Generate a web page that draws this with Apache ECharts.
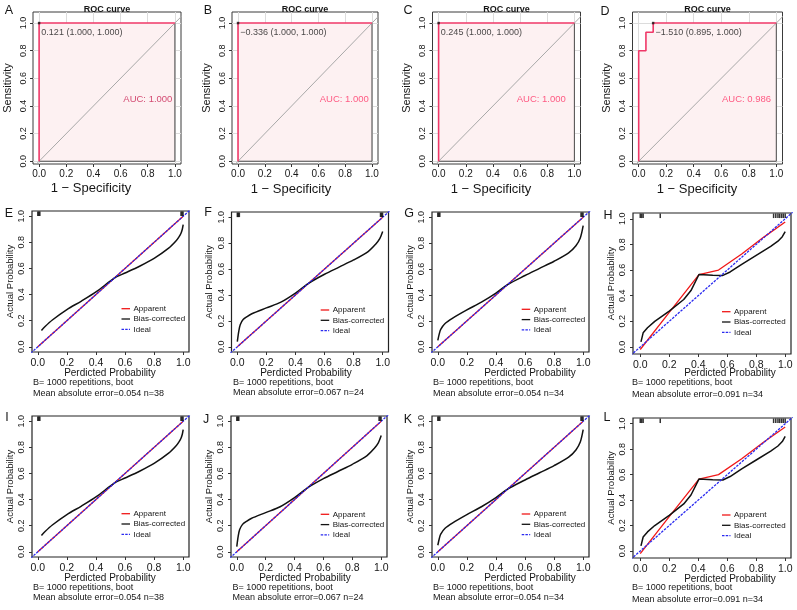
<!DOCTYPE html>
<html><head><meta charset="utf-8">
<script src="https://cdn.jsdelivr.net/npm/echarts@6/dist/echarts.min.js"></script>
<style>html,body{margin:0;padding:0;background:#fff}#c{width:797px;height:610px}</style>
</head><body><div id="c"></div>
<script>
// ---------------- DATA ----------------
const TICKS = [0, 0.2, 0.4, 0.6, 0.8, 1.0];

// ROC panels A-D
const rocLetters = ['A', 'B', 'C', 'D'];
const rocCurveA = [[0, 0], [0, 1], [1, 1]];
const rocCurveB = [[0, 0], [0, 1], [1, 1]];
const rocCurveC = [[0, 0], [0, 1], [1, 1]];
const rocCurveD = [[0, 0], [0, 0.8], [0.0526, 0.8], [0.0526, 0.9333], [0.1053, 0.9333], [0.1053, 1], [1, 1]];
const rocThreshold = [0.121, -0.336, 0.245, -1.510];
const rocBestSpec = [1.000, 1.000, 1.000, 0.895];
const rocBestSens = [1.000, 1.000, 1.000, 1.000];
const rocAUC = [1.000, 1.000, 1.000, 0.986];
const rocAucTextPos = [[0.62, 0.445], [0.61, 0.45], [0.575, 0.45], [0.605, 0.45]];
const rocPolygonEdge = [[0, 0], [1, 0], [1, 1]];
const diagonalLine = [[-0.2, -0.2], [1.2, 1.2]];

// Calibration panels E-L
const calLetters = ['E', 'F', 'G', 'H', 'I', 'J', 'K', 'L'];
const biasE = [[0.025, 0.125], [0.05, 0.155], [0.1, 0.205], [0.2, 0.285], [0.3, 0.35], [0.4, 0.42], [0.5, 0.505], [0.54, 0.535], [0.6, 0.565], [0.7, 0.617], [0.8, 0.677], [0.9, 0.755], [0.95, 0.81], [0.97, 0.84], [0.985, 0.87], [0.994, 0.9], [1.0, 0.935]];
const biasF = [[0.0, 0.04], [0.01, 0.12], [0.02, 0.17], [0.04, 0.21], [0.07, 0.235], [0.1, 0.255], [0.2, 0.3], [0.3, 0.345], [0.4, 0.415], [0.49, 0.49], [0.6, 0.56], [0.7, 0.615], [0.8, 0.67], [0.9, 0.735], [0.95, 0.79], [0.98, 0.835], [1.0, 0.89]];
const biasG = [[0.0, 0.05], [0.01, 0.1], [0.02, 0.135], [0.05, 0.18], [0.1, 0.22], [0.2, 0.285], [0.3, 0.345], [0.4, 0.415], [0.48, 0.48], [0.6, 0.55], [0.7, 0.605], [0.8, 0.66], [0.9, 0.725], [0.95, 0.78], [0.98, 0.84], [1.0, 0.935]];
const biasH = [[0.005, 0.04], [0.02, 0.11], [0.05, 0.15], [0.1, 0.2], [0.2, 0.28], [0.3, 0.37], [0.35, 0.44], [0.405, 0.565], [0.5, 0.56], [0.57, 0.558], [0.62, 0.585], [0.7, 0.645], [0.8, 0.715], [0.9, 0.785], [0.95, 0.825], [0.98, 0.86], [1.0, 0.9]];
const apparentDiag = [[0, 0], [1, 1]];
const apparentH = [[0.0, -0.02], [0.2, 0.27], [0.405, 0.565], [0.54, 0.6], [0.7, 0.725], [0.85, 0.855], [1.0, 0.975]];
const rugE = [0.0, 0.007, 0.014, 0.985, 0.992, 0.999];
const rugF = [0.0, 0.007, 0.014, 0.985, 0.992, 0.999];
const rugG = [0.0, 0.007, 0.014, 0.985, 0.992, 0.999];
const rugH = [0.0, 0.01, 0.02, 0.138, 0.92, 0.935, 0.95, 0.962, 0.975, 0.987, 1.0];
const calMAE = [0.054, 0.067, 0.054, 0.091, 0.054, 0.067, 0.054, 0.091];
const calN = [38, 24, 34, 34, 38, 24, 34, 34];
const calBoot = 1000;
const legendNames = ['Apparent', 'Bias-corrected', 'Ideal'];

// ---------------- LAYOUT / STYLE ----------------
const FONT = '"Liberation Sans", Arial, Helvetica, sans-serif';
const TXT = '#161616';
const RED = '#EF3868';
const rocBoxes = [[33, 12, 148, 152], [232, 12, 146, 152], [432.5, 12, 148, 152], [632.5, 12, 150, 152]];
const rocLetterPos = [[9, 11], [208, 11], [408, 11], [605, 12]];
const rocXTitlePos = [[91, 188], [291, 189], [491, 189], [697, 189]];
const rocAucColor = ['#C81E50', '#FF3366', '#FF3366', '#FF3366'];
const calBoxes = [[32, 211, 157, 141], [231.5, 212, 157, 140], [432, 212, 157, 140], [633, 213, 158, 141],
                  [32, 416, 157, 141], [231, 416, 156, 141], [432, 416, 157, 141], [633, 418, 158, 140]];
const calXRange = [[-0.04, 1.04], [-0.04, 1.04], [-0.04, 1.04], [-0.05, 1.04], [-0.04, 1.04], [-0.04, 1.04], [-0.04, 1.04], [-0.05, 1.04]];
const calYRange = [[-0.04, 1.04], [-0.04, 1.04], [-0.04, 1.04], [-0.055, 1.045], [-0.04, 1.04], [-0.04, 1.04], [-0.04, 1.04], [-0.055, 1.045]];
const calLetterPos = [[9, 214], [208, 213], [409, 214], [608, 216], [7, 418], [206, 420], [408, 420], [607, 418]];
const calXTitle = [[110, 373], [306, 373], [530, 373], [730, 373], [110, 578], [305, 578], [530, 578], [730, 579]];
const calSubLeft = [33, 233, 433, 632, 33, 232.5, 433, 632];
const calSubY = [[383, 393.5], [383, 393], [383, 393.5], [383, 395], [588, 598], [588, 598], [588, 598], [588, 600]];
const calLegendPos = [[121.5, 308.7], [320.7, 310], [521.7, 309.3], [722, 311.7], [121.5, 513.7], [320.7, 514.3], [521.7, 514], [722, 515]];
const legendColors = ['#F01818', '#111111', '#2A2AF0'];
const legendDash = [null, null, [2.5, 1.2]];

const rocCurves = [rocCurveA, rocCurveB, rocCurveC, rocCurveD];
const calBias = [biasE, biasF, biasG, biasH, biasE, biasF, biasG, biasH];
const calApp = [apparentDiag, apparentDiag, apparentDiag, apparentH, apparentDiag, apparentDiag, apparentDiag, apparentH];
const calRug = [rugE, rugF, rugG, rugH, rugE, rugF, rugG, rugH];

const fmtNum = v => (v < 0 ? '\u2212' : '') + Math.abs(v).toFixed(3);

const grids = [], xAxes = [], yAxes = [], series = [], graphics = [];

function mkAxis(dim, idx, min, max, o) {
  return {
    gridIndex: idx, type: 'value', min: min, max: max,
    name: o.name, nameLocation: 'middle', nameGap: o.nameGap,
    nameTextStyle: { fontSize: o.nameSize, color: TXT, fontFamily: FONT },
    axisLine: { show: false, onZero: false },
    splitLine: { show: false },
    axisTick: { show: true, customValues: TICKS, length: 3, lineStyle: { color: '#333', width: 1 } },
    axisLabel: { customValues: TICKS, formatter: v => v.toFixed(1), fontSize: o.labelSize, margin: o.margin,
      color: TXT, fontFamily: FONT, rotate: dim === 'y' ? 90 : 0 }
  };
}
function txt(x, y, text, font, fill, align) {
  return { type: 'text', x: x, y: y, z: 100, silent: true,
    style: { text: text, font: font, fill: fill || TXT, align: align || 'center', verticalAlign: 'middle' } };
}

// ROC panels
rocLetters.forEach((L, i) => {
  const b = rocBoxes[i];
  grids.push({ left: b[0], top: b[1], width: b[2], height: b[3], show: true, borderColor: '#3a3a3a', borderWidth: 1, backgroundColor: '#fff' });
  xAxes.push(mkAxis('x', i, -0.045, 1.045, { name: '', nameGap: 0, nameSize: 13, labelSize: 10, margin: 5 }));
  yAxes.push(mkAxis('y', i, -0.02, 1.08, { name: 'Sensitivity', nameGap: 20, nameSize: 11, labelSize: 9, margin: 5 }));
  const ax = { xAxisIndex: i, yAxisIndex: i };
  series.push(Object.assign({ type: 'line', data: [], silent: true, z: 1,
    markLine: { silent: true, symbol: 'none', label: { show: false }, animation: false, z: 1,
      lineStyle: { color: '#DCDCDC', type: 'solid', width: 1 },
      data: TICKS.map(v => ({ xAxis: v })).concat(TICKS.map(v => ({ yAxis: v }))) } }, ax));
  series.push(Object.assign({ type: 'line', data: rocCurves[i], symbol: 'none', silent: true, z: 2,
    lineStyle: { width: 0, opacity: 0 }, areaStyle: { color: '#FDF1F2', opacity: 1 } }, ax));
  series.push(Object.assign({ type: 'line', data: rocPolygonEdge, symbol: 'none', silent: true, z: 3,
    lineStyle: { color: '#4a4a4a', width: 1 } }, ax));
  series.push(Object.assign({ type: 'line', data: diagonalLine, symbol: 'none', silent: true, z: 3,
    lineStyle: { color: '#A8A8A8', width: 1 } }, ax));
  series.push(Object.assign({ type: 'line', data: rocCurves[i], symbol: 'none', silent: true, z: 4,
    lineStyle: { color: RED, width: 1.6 } }, ax));
  const bx = 1 - rocBestSpec[i], by = rocBestSens[i];
  series.push(Object.assign({ type: 'scatter', data: [[bx, by]], symbol: 'rect', symbolSize: 2.5, silent: true, z: 5,
    itemStyle: { color: '#111' },
    label: { show: true, position: 'right', distance: 1, offset: [0, 9], fontSize: 9, color: TXT, fontFamily: FONT,
      formatter: fmtNum(rocThreshold[i]) + ' (' + rocBestSpec[i].toFixed(3) + ', ' + rocBestSens[i].toFixed(3) + ')' } }, ax));
  series.push(Object.assign({ type: 'scatter', data: [rocAucTextPos[i]], symbolSize: 0, silent: true, z: 5,
    label: { show: true, position: 'right', distance: 0, fontSize: 9.5, color: rocAucColor[i], fontFamily: FONT,
      formatter: 'AUC: ' + rocAUC[i].toFixed(3) } }, ax));
  graphics.push(txt(b[0] + b[2] / 2, 9.5, 'ROC curve', 'bold 9px ' + FONT));
  graphics.push(txt(rocLetterPos[i][0], rocLetterPos[i][1], L, '12.5px ' + FONT));
  graphics.push(txt(rocXTitlePos[i][0], rocXTitlePos[i][1], '1 \u2212 Specificity', '13px ' + FONT));
});

// Calibration panels
calLetters.forEach((L, k) => {
  const i = k + 4;
  const b = calBoxes[k];
  grids.push({ left: b[0], top: b[1], width: b[2], height: b[3], show: true, borderColor: '#222', borderWidth: 1.2, backgroundColor: '#fff' });
  xAxes.push(mkAxis('x', i, calXRange[k][0], calXRange[k][1], { name: '', nameGap: 0, nameSize: 10, labelSize: 10.5, margin: 6 }));
  yAxes.push(mkAxis('y', i, calYRange[k][0], calYRange[k][1], { name: 'Actual Probability', nameGap: 17, nameSize: 9.5, labelSize: 9, margin: 5.5 }));
  const ax = { xAxisIndex: i, yAxisIndex: i };
  series.push(Object.assign({ name: legendNames[0], type: 'line', data: calApp[k], symbol: 'none', silent: true, z: 2,
    lineStyle: { color: legendColors[0], width: 1.3 } }, ax));
  series.push(Object.assign({ name: legendNames[1], type: 'line', data: calBias[k], symbol: 'none', silent: true, z: 3,
    smooth: k % 4 === 3 ? false : 0.3, lineStyle: { color: legendColors[1], width: 1.5 } }, ax));
  series.push(Object.assign({ name: legendNames[2], type: 'line', data: diagonalLine, symbol: 'none', silent: true, z: 4,
    lineStyle: { color: legendColors[2], width: 1.3, type: legendDash[2] } }, ax));
  const rugY = calYRange[k][1] - 0.022;
  series.push(Object.assign({ type: 'scatter', data: calRug[k].map(v => [v, rugY]), symbol: 'rect', symbolSize: [1.5, 4.5], silent: true, z: 5,
    itemStyle: { color: '#000' } }, ax));
  // legend (drawn as graphic keys)
  const lp = calLegendPos[k];
  legendNames.forEach((nm, j) => {
    const y = lp[1] + j * 10.3;
    graphics.push({ type: 'line', z: 100, silent: true, shape: { x1: lp[0], y1: y, x2: lp[0] + 8.5, y2: y },
      style: { stroke: legendColors[j], lineWidth: 1.3, lineDash: legendDash[j] } });
    graphics.push(txt(lp[0] + 12, y, nm, '8px ' + FONT, TXT, 'left'));
  });
  graphics.push(txt(calXTitle[k][0], calXTitle[k][1], 'Perdicted Probability', '10px ' + FONT));
  graphics.push(txt(calSubLeft[k], calSubY[k][0], 'B= ' + calBoot + ' repetitions, boot', '9px ' + FONT, TXT, 'left'));
  graphics.push(txt(calSubLeft[k], calSubY[k][1], 'Mean absolute error=' + calMAE[k].toFixed(3) + ' n=' + calN[k], '9px ' + FONT, TXT, 'left'));
  graphics.push(txt(calLetterPos[k][0], calLetterPos[k][1], L, '12.5px ' + FONT));
});

const chart = echarts.init(document.getElementById('c'), null, { renderer: 'canvas' });
chart.setOption({
  animation: false,
  backgroundColor: '#ffffff',
  textStyle: { fontFamily: FONT },
  grid: grids, xAxis: xAxes, yAxis: yAxes, series: series, graphic: graphics
});
</script>
</body></html>
